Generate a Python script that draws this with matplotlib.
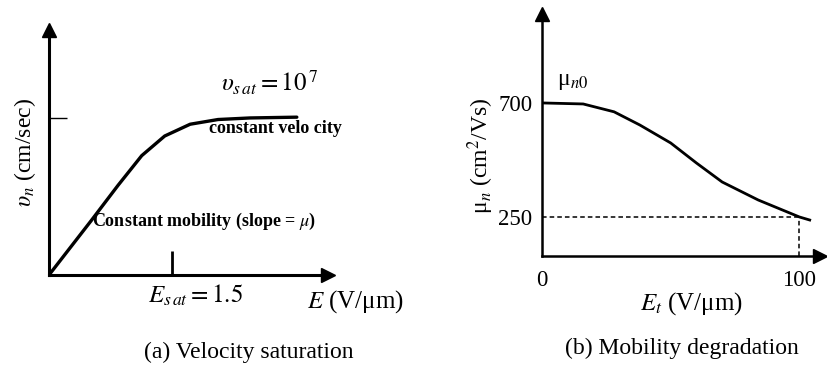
import matplotlib
matplotlib.use("Agg")
import matplotlib.pyplot as plt

plt.rcParams['font.family'] = ['Liberation Serif', 'DejaVu Serif']
plt.rcParams['mathtext.fontset'] = 'stix'

# (a) velocity saturation: E in V/um, velocity in units of 1e7 cm/s
vel_E = [0, 0.52, 0.84, 1.13, 1.41, 1.72, 2.06, 2.45, 3.02]
vel_v = [0, 0.35, 0.57, 0.76, 0.885, 0.96, 0.99, 1.0, 1.005]
E_sat = 1.5
v_sat = 1.0

# (b) mobility degradation: E_t in V/um, mobility in cm^2/Vs
mob_E = [0, 16, 28, 38, 50, 60, 70, 84, 100, 104]
mob_mu = [700, 696, 665, 613, 542, 463, 388, 317, 250, 238]
mu_ticks = [700, 250]
E_ticks = [0, 100]

W, H = 827, 365
fig = plt.figure(figsize=(W / 100, H / 100), dpi=100)


def px_axes(x0, y0, x1, y1):
    # axes box from pixel corners (top-left origin)
    return fig.add_axes([x0 / W, (H - y1) / H, (x1 - x0) / W, (y1 - y0) / H])


def arrow_axes(ax, lw):
    for s in ['top', 'right']:
        ax.spines[s].set_visible(False)
    for s in ['left', 'bottom']:
        ax.spines[s].set_linewidth(lw)
    ax.plot(1, 0, '>k', ms=10, transform=ax.transAxes, clip_on=False)
    ax.plot(0, 1, '^k', ms=10, transform=ax.transAxes, clip_on=False)
    ax.patch.set_visible(False)


# ---- left panel
ax1 = px_axes(49, 30, 328, 275)
ax1.set_xlim(0, 3.40)
ax1.set_ylim(0, 1.56)
arrow_axes(ax1, 2.2)
ax1.plot(vel_E, vel_v, color='black', lw=2.4, solid_capstyle='round')
ax1.set_xticks([E_sat])
ax1.set_xticklabels([])
ax1.tick_params(axis='x', direction='in', length=17, width=2)
ax1.set_yticks([v_sat])
ax1.set_yticklabels([])
ax1.tick_params(axis='y', direction='in', length=13, width=1)

ax1.text(-0.29, 0.78, r'$\upsilon_n$ (cm/sec)', rotation=90, fontsize=17,
         ha='center', va='center', clip_on=False)
ax1.text(2.1, 1.22, r'$\upsilon_{s\,at} = 10^{\,7}$', fontsize=18,
         ha='left', va='center')
ax1.text(1.95, 0.93, 'constant velo city', fontsize=13, fontweight='bold',
         ha='left', va='center')
ax1.text(0.52, 0.34, r'Constant mobility (slope = $\mu$)', fontsize=13,
         fontweight='bold', ha='left', va='center')
ax1.text(1.21, -0.13, r'$E_{s\,at} = 1.5$', fontsize=18, ha='left', va='center',
         clip_on=False)
ax1.text(3.15, -0.17, r'$E$ (V/μm)', fontsize=18, ha='left', va='center',
         clip_on=False)
ax1.text(2.44, -0.49, '(a) Velocity saturation', fontsize=17, ha='center',
         va='center', clip_on=False)

# ---- right panel
ax2 = px_axes(542, 14, 820, 256)
ax2.set_xlim(0, 108)
ax2.set_ylim(96, 1051)
arrow_axes(ax2, 1.8)
ax2.plot(mob_E, mob_mu, color='black', lw=2.0)
ax2.plot([0, E_ticks[1]], [mu_ticks[1], mu_ticks[1]], color='black', lw=1.1,
         ls=(0, (3, 2)))
ax2.plot([E_ticks[1], E_ticks[1]], [96, mu_ticks[1]], color='black', lw=1.1,
         ls=(0, (3, 2)))
ax2.set_yticks(mu_ticks)
ax2.set_yticklabels([str(v) for v in mu_ticks], fontsize=16.5)
ax2.set_xticks(E_ticks)
ax2.set_xticklabels([str(v) for v in E_ticks], fontsize=16.5)
ax2.tick_params(length=0, pad=7)
ax2.tick_params(axis='x', pad=10)

ax2.text(-24, 490, r'μ$_n$ (cm$^2$/Vs)', rotation=90, fontsize=17,
         ha='center', va='center', clip_on=False)
ax2.text(6, 785, r'μ$_{n0}$', fontsize=17, ha='left', va='center')
ax2.text(38, -90, r'$E_t$ (V/μm)', fontsize=18, ha='left', va='center',
         clip_on=False)
ax2.text(54.5, -268, '(b) Mobility degradation', fontsize=17, ha='center',
         va='center', clip_on=False)

fig.savefig('out.png', dpi=100)
